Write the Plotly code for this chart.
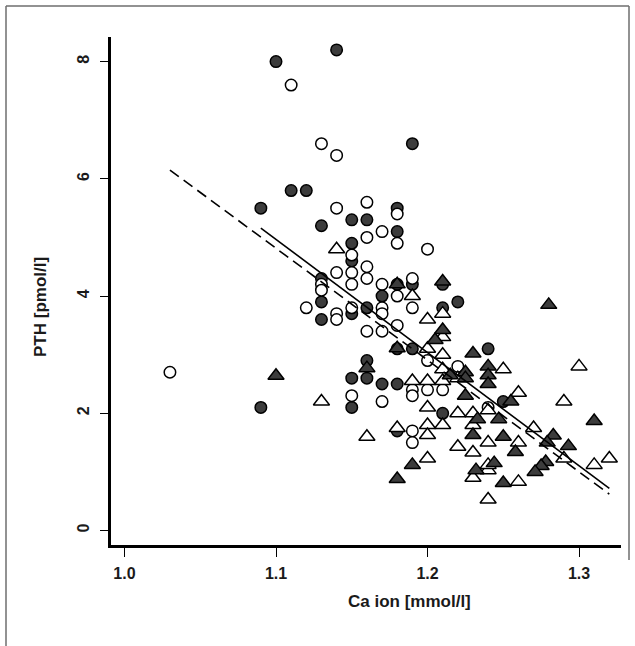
import plotly.graph_objects as go

# ---- data ----
fc_x = [1.10, 1.14, 1.19, 1.09, 1.11, 1.12, 1.13, 1.15, 1.16, 1.18, 1.18, 1.15, 1.15, 1.13, 1.13,
        1.13, 1.15, 1.16, 1.17, 1.18, 1.19, 1.21, 1.21, 1.22, 1.16, 1.15, 1.16, 1.17, 1.18, 1.15,
        1.09, 1.18, 1.19, 1.24, 1.21, 1.25, 1.18]
fc_y = [8.0, 8.2, 6.6, 5.5, 5.8, 5.8, 5.2, 5.3, 5.3, 5.5, 5.1, 4.9, 4.6, 4.3, 3.9,
        3.6, 3.7, 3.8, 4.0, 4.2, 4.2, 4.2, 3.8, 3.9, 2.9, 2.6, 2.6, 2.5, 2.5, 2.1,
        2.1, 3.1, 3.1, 3.1, 2.0, 2.2, 1.7]

oc_x = [1.03, 1.11, 1.13, 1.14, 1.14, 1.16, 1.18, 1.17, 1.16, 1.18, 1.20, 1.15, 1.15, 1.15, 1.14,
        1.16, 1.16, 1.13, 1.13, 1.12, 1.14, 1.14, 1.15, 1.16, 1.17, 1.17, 1.17, 1.17, 1.18, 1.18,
        1.19, 1.19, 1.20, 1.19, 1.19, 1.20, 1.21, 1.22, 1.15, 1.17, 1.19, 1.19, 1.24]
oc_y = [2.7, 7.6, 6.6, 6.4, 5.5, 5.6, 5.4, 5.1, 5.0, 4.9, 4.8, 4.7, 4.4, 4.2, 4.4,
        4.5, 4.3, 4.2, 4.1, 3.8, 3.7, 3.6, 3.8, 3.4, 4.2, 3.8, 3.7, 3.4, 4.0, 3.5,
        4.3, 3.8, 2.9, 2.4, 2.3, 2.4, 2.4, 2.8, 2.3, 2.2, 1.7, 1.5, 2.1]

ot_x = [1.14, 1.19, 1.21, 1.20, 1.21, 1.20, 1.21, 1.21, 1.22, 1.19, 1.20, 1.21, 1.25, 1.26, 1.30,
        1.29, 1.32, 1.31, 1.29, 1.13, 1.16, 1.18, 1.20, 1.20, 1.21, 1.22, 1.23, 1.23, 1.27, 1.24,
        1.26, 1.22, 1.23, 1.20, 1.20, 1.23, 1.24, 1.24, 1.26, 1.24, 1.24]
ot_y = [4.8, 4.0, 3.7, 3.6, 3.3, 3.1, 3.0, 2.75, 2.6, 2.55, 2.55, 2.55, 2.75, 2.35, 2.8,
        2.2, 1.23, 1.12, 1.23, 2.2, 1.6, 1.75, 2.1, 1.8, 1.8, 2.0, 2.0, 1.8, 1.75, 1.5,
        1.5, 1.43, 1.33, 1.23, 1.63, 0.9, 1.03, 1.12, 0.83, 0.53, 2.05]

ft_x = [1.10, 1.21, 1.18, 1.21, 1.205, 1.18, 1.16, 1.23, 1.24, 1.24, 1.24, 1.215, 1.225, 1.225, 1.225,
        1.28, 1.31, 1.233, 1.247, 1.23, 1.25, 1.258, 1.19, 1.18, 1.232, 1.244, 1.25, 1.283, 1.293, 1.279,
        1.278, 1.275, 1.271, 1.255]
ft_y = [2.64, 4.25, 4.2, 3.42, 3.25, 3.11, 2.77, 3.02, 2.8, 2.65, 2.5, 2.65, 2.7, 2.6, 2.3,
        3.85, 1.87, 1.9, 1.9, 1.63, 1.6, 1.34, 1.12, 0.88, 1.03, 1.15, 0.81, 1.62, 1.44, 1.5,
        1.17, 1.1, 1.0, 2.2]

solid_x = [1.09, 1.32]
solid_y = [5.16, 0.72]
dashed_x = [1.03, 1.32]
dashed_y = [6.15, 0.62]

x_ticks = [1.0, 1.1, 1.2, 1.3]
x_tick_labels = ["1.0", "1.1", "1.2", "1.3"]
y_ticks = [0, 2, 4, 6, 8]
y_tick_labels = ["0", "2", "4", "6", "8"]

x_title = "Ca ion [mmol/l]"
y_title = "PTH [pmol/l]"

# ---- figure ----
FONT = "Liberation Sans, Arial, sans-serif"
fig = go.Figure()


def add_markers(x, y, symbol, fill, size):
    fig.add_trace(go.Scatter(
        x=x, y=y, mode="markers", showlegend=False, cliponaxis=False,
        marker=dict(symbol=symbol, size=size, color=fill,
                    line=dict(color="black", width=1.5))))


add_markers(fc_x, fc_y, "circle", "#3c3c3c", 11.5)
add_markers(oc_x, oc_y, "circle", "white", 11.5)
add_markers(ot_x, ot_y, "triangle-up", "white", 14)
add_markers(ft_x, ft_y, "triangle-up", "#3c3c3c", 14)

fig.add_trace(go.Scatter(x=solid_x, y=solid_y, mode="lines", showlegend=False,
                         line=dict(color="black", width=1.6)))
fig.add_trace(go.Scatter(x=dashed_x, y=dashed_y, mode="lines", showlegend=False,
                         line=dict(color="black", width=1.6, dash="11px,6px")))

L, R, T, B = 111, 14, 37, 101
W, H = 635, 646
pw, ph = W - L - R, H - T - B


def px2paper(px, py):
    return (px - L) / pw, (H - B - py) / ph


tickfont = dict(family=FONT, size=16, color="#1a1a1a", weight="bold")
fig.update_layout(
    width=W, height=H,
    margin=dict(l=L, r=R, t=T, b=B),
    paper_bgcolor="white", plot_bgcolor="white",
    hovermode=False,
    xaxis=dict(range=[0.9911, 1.3277], tickvals=x_ticks, ticktext=x_tick_labels,
               ticks="outside", ticklen=9, tickwidth=1.2, tickcolor="black",
               showline=True, linewidth=3, linecolor="black",
               showgrid=False, zeroline=False, tickfont=tickfont,
               ticklabelstandoff=3),
    yaxis=dict(range=[-0.247, 8.42], tickvals=y_ticks, ticktext=y_tick_labels,
               ticks="outside", ticklen=8, tickwidth=1.2, tickcolor="black",
               showline=True, linewidth=3, linecolor="black",
               showgrid=False, zeroline=False, tickfont=tickfont, tickangle=-90,
               ticklabelstandoff=5),
)

# axis titles
xt = px2paper(409, 601)
yt = px2paper(40, 307)
fig.add_annotation(text=x_title, xref="paper", yref="paper", x=xt[0], y=xt[1],
                   showarrow=False, xanchor="center", yanchor="middle",
                   font=dict(family=FONT, size=17, color="#1a1a1a", weight="bold"))
fig.add_annotation(text=y_title, xref="paper", yref="paper", x=yt[0], y=yt[1],
                   showarrow=False, xanchor="center", yanchor="middle", textangle=-90,
                   font=dict(family=FONT, size=17, color="#1a1a1a", weight="bold"))

# outer frame (left, top, right edges of the figure panel)
x0, y0 = px2paper(6, 646)
x1, y1 = px2paper(629, 6)
_, yr = px2paper(629, 560)
frame = dict(color="#6e6e6e", width=1.5)
fig.add_shape(type="line", xref="paper", yref="paper", x0=x0, y0=y0, x1=x0, y1=y1, line=frame)
fig.add_shape(type="line", xref="paper", yref="paper", x0=x0, y0=y1, x1=x1, y1=y1, line=frame)
fig.add_shape(type="line", xref="paper", yref="paper", x0=x1, y0=y1, x1=x1, y1=yr, line=frame)

fig.write_html("out.html", config={"displayModeBar": False},
               post_script="document.body.style.margin='0px';")
